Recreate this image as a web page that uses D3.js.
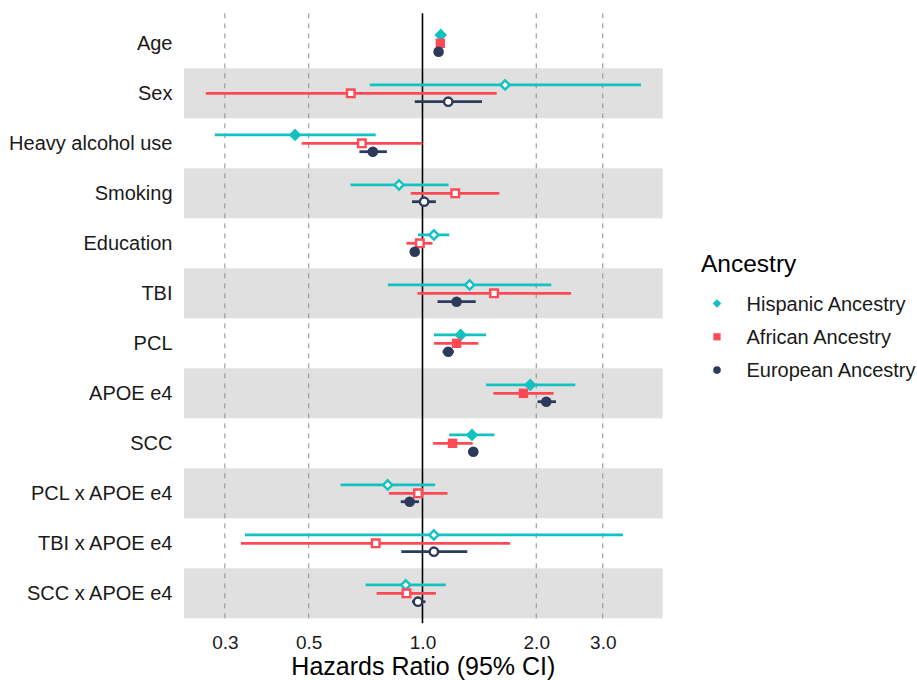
<!DOCTYPE html>
<html>
<head>
<title>Hazards Ratio by Ancestry</title>
<style>
body { margin: 0; background: #fff; }
text { font-family: "Liberation Sans", Arial, sans-serif; }
.yaxis text { font-size: 20px; fill: #1a1a1a; }
.xaxis text { font-size: 19px; fill: #1a1a1a; }
.guide { stroke: #8c8c8c; stroke-width: 1; stroke-dasharray: 5,5; }
</style>
</head>
<body>
<script src="https://cdn.jsdelivr.net/npm/d3@7"></script>
<div id="chart"></div>
<script>
// factors, top to bottom
var factors = ["Age", "Sex", "Heavy alcohol use", "Smoking", "Education", "TBI", "PCL",
    "APOE e4", "SCC", "PCL x APOE e4", "TBI x APOE e4", "SCC x APOE e4"];
var groups = ["Hispanic Ancestry", "African Ancestry", "European Ancestry"];
var colors = ["#13C1C0", "#FF4A55", "#2D3A5A"];
var shapes = ["diamond", "square", "circle"];
var ticks = [0.3, 0.5, 1.0, 2.0, 3.0];

// hazards ratios and 95% CI, one array per ancestry
var hrHispanic = [1.118, 1.654, 0.460, 0.867, 1.072, 1.333, 1.262, 1.928, 1.352, 0.809, 1.072, 0.903];
var loHispanic = [1.100, 0.725, 0.282, 0.645, 0.973, 0.810, 1.072, 1.473, 1.177, 0.607, 0.339, 0.707];
var hiHispanic = [1.135, 3.785, 0.752, 1.172, 1.177, 2.192, 1.473, 2.538, 1.550, 1.080, 3.390, 1.153];

var hrAfrican = [1.115, 0.646, 0.691, 1.221, 0.984, 1.547, 1.231, 1.850, 1.201, 0.973, 0.752, 0.907];
var loAfrican = [1.100, 0.267, 0.479, 0.931, 0.907, 0.970, 1.072, 1.540, 1.067, 0.815, 0.331, 0.756];
var hiAfrican = [1.130, 1.572, 1.000, 1.598, 1.063, 2.472, 1.405, 2.223, 1.358, 1.165, 1.706, 1.085];

var hrEuropean = [1.103, 1.170, 0.739, 1.010, 0.954, 1.231, 1.170, 2.126, 1.363, 0.925, 1.072, 0.973];
var loEuropean = [1.090, 0.954, 0.681, 0.938, 0.930, 1.096, 1.130, 2.016, 1.320, 0.876, 0.879, 0.938];
var hiEuropean = [1.115, 1.437, 0.805, 1.085, 0.980, 1.383, 1.210, 2.256, 1.400, 0.979, 1.314, 1.018];

(function() {
    var width = 917, height = 680;
    var panel = { left: 184, right: 662.7, top: 13.3, bottom: 623.3 };

    var hr = [hrHispanic, hrAfrican, hrEuropean];
    var lo = [loHispanic, loAfrican, loEuropean];
    var hi = [hiHispanic, hiAfrican, hiEuropean];

    var rows = [];
    groups.forEach(function(g, gi) {
        factors.forEach(function(f, fi) {
            rows.push({ factor: f, group: gi, hr: hr[gi][fi], lo: lo[gi][fi], hi: hi[gi][fi],
                sig: lo[gi][fi] > 1 || hi[gi][fi] < 1 });
        });
    });

    // log scale with ggplot-like 5% expansion
    var lmin = Math.log(d3.min(rows, function(d) { return d.lo; }));
    var lmax = Math.log(d3.max(rows, function(d) { return d.hi; }));
    var pad = 0.05 * (lmax - lmin);
    var x = d3.scaleLog()
        .domain([Math.exp(lmin - pad), Math.exp(lmax + pad)])
        .range([panel.left, panel.right]);
    var y = d3.scaleBand()
        .domain(factors)
        .range([panel.top + 5, panel.bottom - 5]);
    var dodge = [-8.4, 0, 8.4];
    function yc(d) { return y(d.factor) + y.bandwidth() / 2 + dodge[d.group]; }

    function shapePath(shape, s) {
        if (shape == "diamond") return "M0," + (-s) + "L" + s + ",0L0," + s + "L" + (-s) + ",0Z";
        if (shape == "square") return "M" + (-s) + "," + (-s) + "H" + s + "V" + s + "H" + (-s) + "Z";
        return "M" + s + ",0A" + s + "," + s + " 0 1,1 " + (-s) + ",0A" + s + "," + s + " 0 1,1 " + s + ",0Z";
    }
    var filledSize = { diamond: 6.3, square: 4.7, circle: 5.3 };
    var openSize = { diamond: 4.6, square: 3.8, circle: 4.2 };

    var svg = d3.select("#chart").append("svg")
        .attr("width", width)
        .attr("height", height);

    // shaded alternate rows
    svg.append("g").selectAll("rect")
        .data(factors.filter(function(f, i) { return i % 2 == 1; }))
        .enter().append("rect")
        .attr("x", panel.left)
        .attr("width", panel.right - panel.left)
        .attr("y", function(f) { return y(f); })
        .attr("height", y.bandwidth())
        .attr("fill", "#e0e0e0");

    svg.append("g").selectAll("line")
        .data(ticks.filter(function(t) { return t != 1; }))
        .enter().append("line")
        .attr("class", "guide")
        .attr("x1", function(t) { return x(t); })
        .attr("x2", function(t) { return x(t); })
        .attr("y1", panel.top)
        .attr("y2", panel.bottom);

    svg.append("line")
        .attr("x1", x(1)).attr("x2", x(1))
        .attr("y1", panel.top).attr("y2", panel.bottom)
        .attr("stroke", "#000")
        .attr("stroke-width", 1.6);

    svg.append("g").selectAll("line")
        .data(rows)
        .enter().append("line")
        .attr("x1", function(d) { return x(d.lo); })
        .attr("x2", function(d) { return x(d.hi); })
        .attr("y1", yc)
        .attr("y2", yc)
        .attr("stroke", function(d) { return colors[d.group]; })
        .attr("stroke-width", 2.8);

    svg.append("g").selectAll("path")
        .data(rows)
        .enter().append("path")
        .attr("transform", function(d) { return "translate(" + x(d.hr) + "," + yc(d) + ")"; })
        .attr("d", function(d) {
            var sh = shapes[d.group];
            return shapePath(sh, d.sig ? filledSize[sh] : openSize[sh]);
        })
        .attr("fill", function(d) { return d.sig ? colors[d.group] : "#fff"; })
        .attr("stroke", function(d) { return d.sig ? "none" : colors[d.group]; })
        .attr("stroke-width", 2.4);

    // axes
    var xaxis = d3.axisBottom(x)
        .tickValues(ticks)
        .tickFormat(d3.format(".1f"))
        .tickSize(0)
        .tickPadding(12);
    svg.append("g")
        .attr("class", "xaxis")
        .attr("transform", "translate(0," + panel.bottom + ")")
        .call(xaxis)
        .call(function(g) { g.select(".domain").remove(); })
        .selectAll("text").attr("font-family", null).attr("font-size", null);

    var yaxis = d3.axisLeft(y)
        .tickSize(0)
        .tickPadding(11.5);
    svg.append("g")
        .attr("class", "yaxis")
        .attr("transform", "translate(" + panel.left + ",0)")
        .call(yaxis)
        .call(function(g) { g.select(".domain").remove(); })
        .selectAll("text").attr("font-family", null).attr("font-size", null);

    svg.append("text")
        .attr("x", (panel.left + panel.right) / 2)
        .attr("y", 675)
        .attr("text-anchor", "middle")
        .attr("font-size", 25)
        .attr("fill", "#000")
        .text("Hazards Ratio (95% CI)");

    // legend
    var legend = svg.append("g");
    legend.append("text")
        .attr("x", 701)
        .attr("y", 272)
        .attr("font-size", 24.5)
        .attr("fill", "#000")
        .text("Ancestry");
    var legendSize = { diamond: 4.3, square: 3.6, circle: 3.8 };
    var items = legend.selectAll("g.item")
        .data(groups)
        .enter().append("g")
        .attr("class", "item")
        .attr("transform", function(g, i) { return "translate(717," + (303.5 + i * 33.3) + ")"; });
    items.append("path")
        .attr("d", function(g, i) { return shapePath(shapes[i], legendSize[shapes[i]]); })
        .attr("fill", function(g, i) { return colors[i]; });
    items.append("text")
        .attr("x", 29.5)
        .attr("dy", "0.35em")
        .attr("font-size", 20)
        .attr("fill", "#1a1a1a")
        .text(function(g) { return g; });
})();
</script>
</body>
</html>
